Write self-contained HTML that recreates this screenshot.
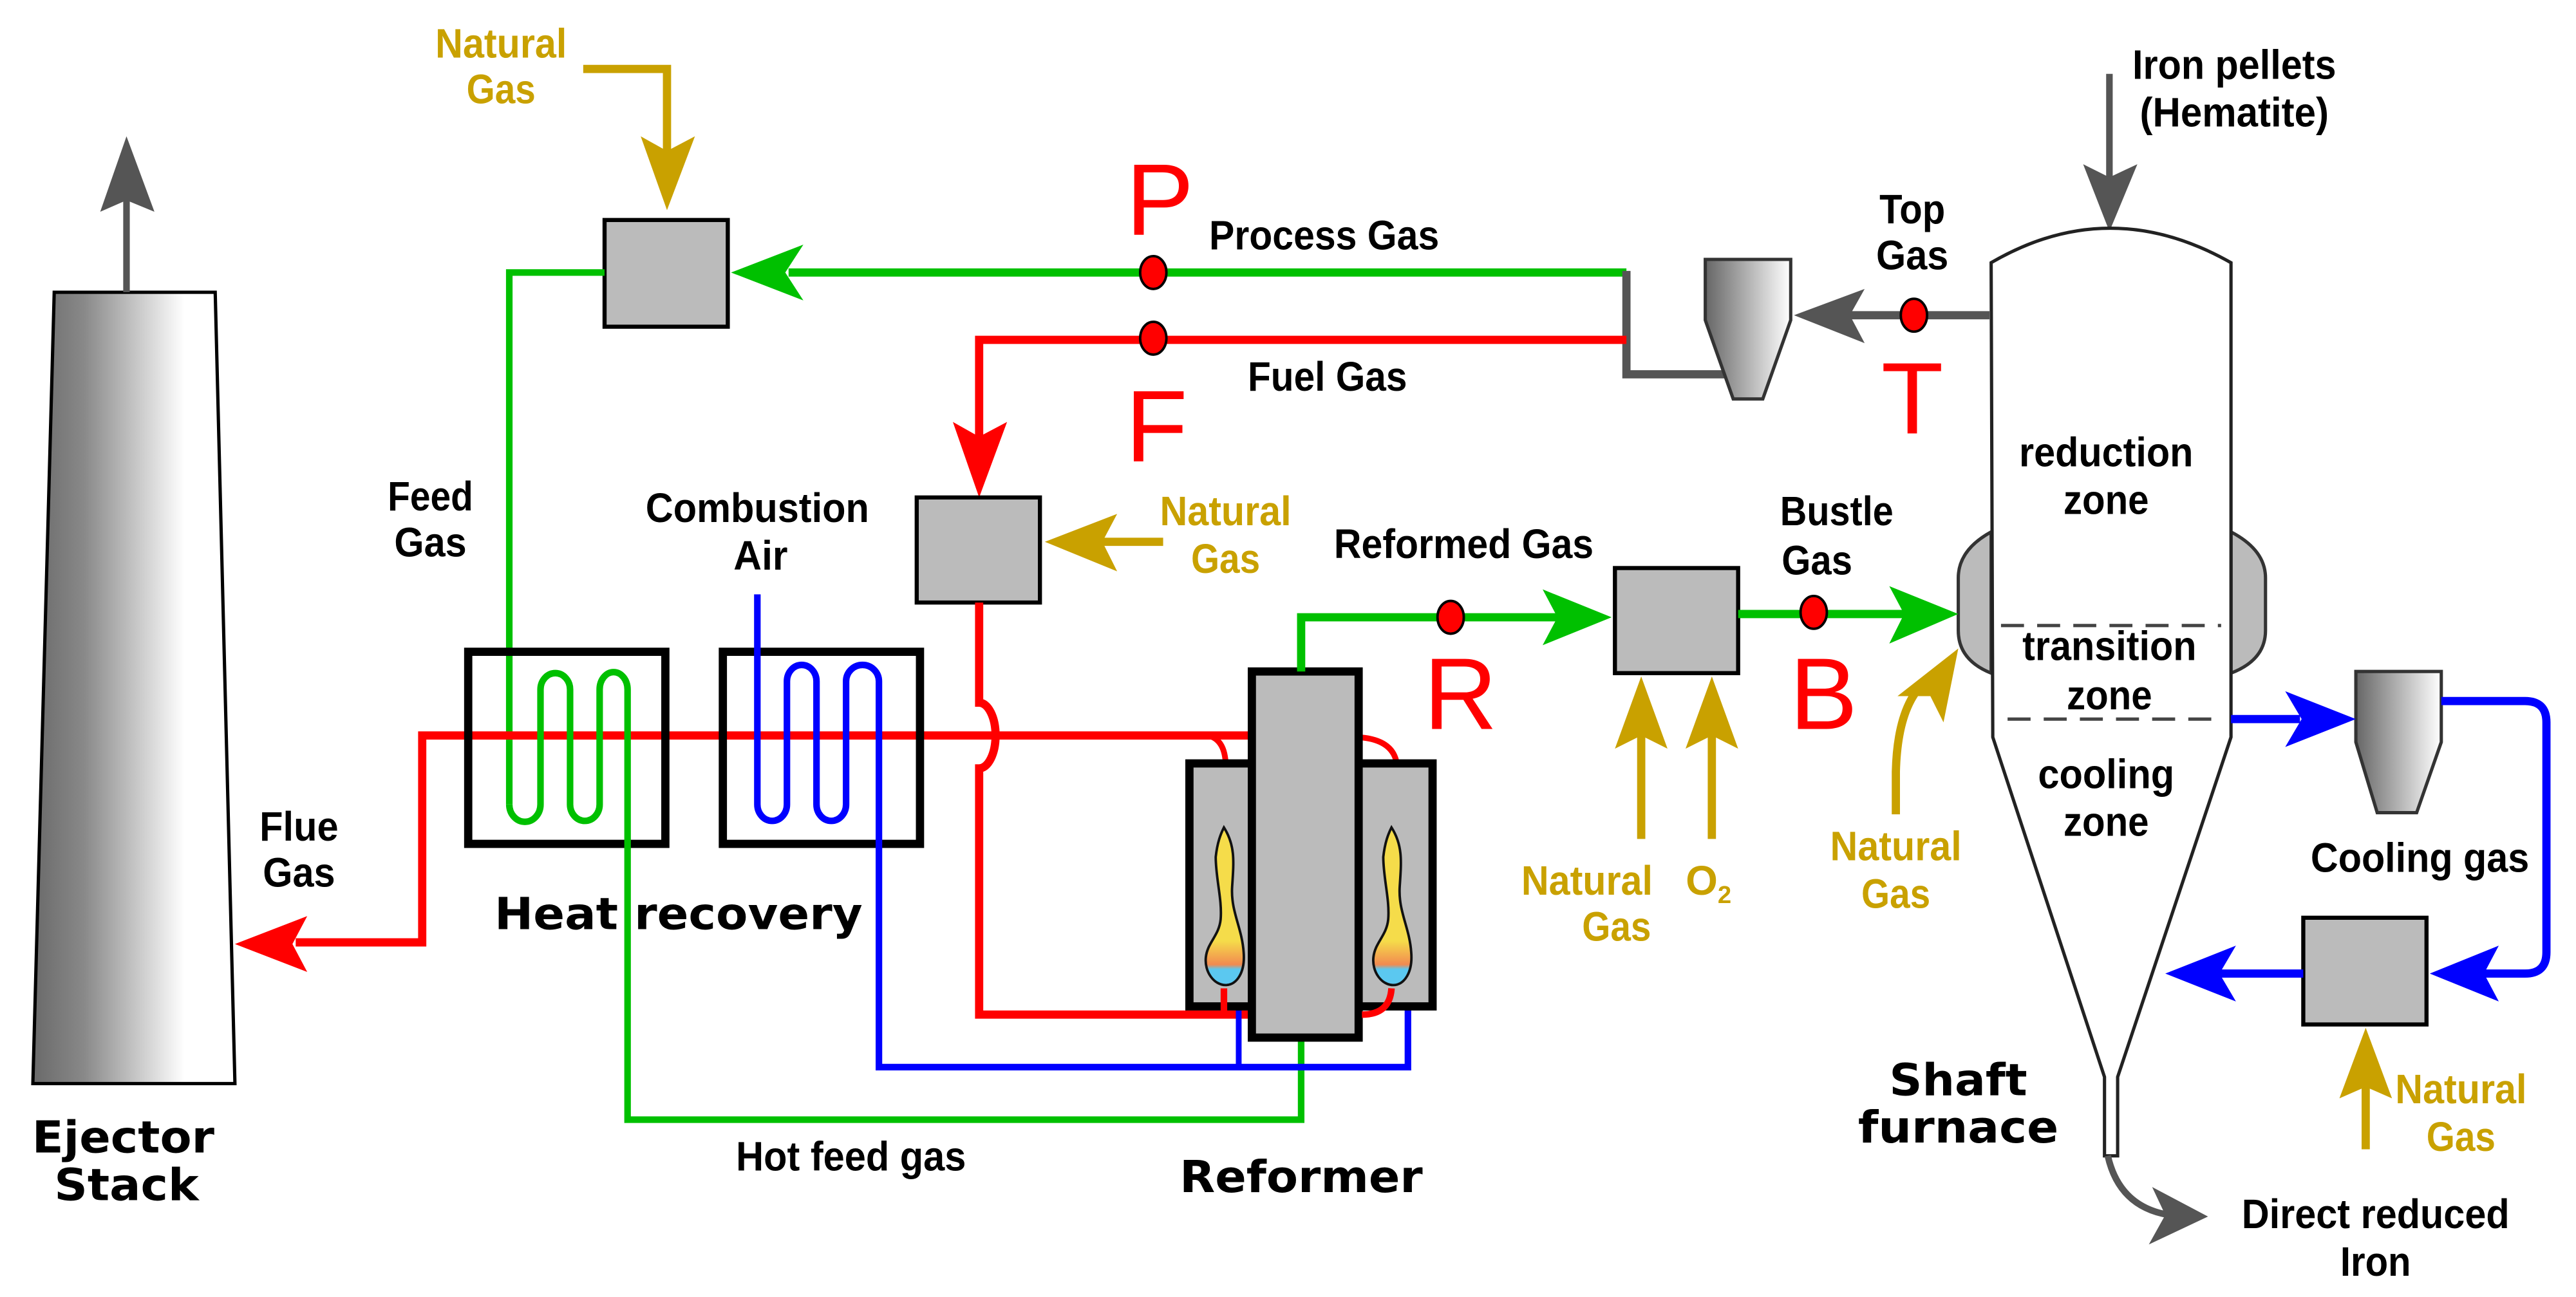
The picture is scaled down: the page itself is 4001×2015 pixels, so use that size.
<!DOCTYPE html>
<html><head><meta charset="utf-8"><style>
html,body{margin:0;padding:0;background:#fff;}
svg{display:block;}
text{font-family:"Liberation Sans",sans-serif;}
.l{font-size:25px;fill:#000;font-weight:bold;}
.g{font-size:25px;fill:#c9a100;font-weight:bold;}
.b{font-family:"DejaVu Sans","Liberation Sans",sans-serif;font-weight:bold;font-size:27px;fill:#000;}
.r{font-size:62px;fill:#f00;}
</style></head><body>
<svg width="4001" height="2015" viewBox="0 0 1568 790" preserveAspectRatio="none" xmlns="http://www.w3.org/2000/svg">
<defs>
<linearGradient id="st" x1="0" x2="1" y1="0" y2="0"><stop offset="0" stop-color="#6a6a6a"/><stop offset="0.25" stop-color="#888"/><stop offset="0.75" stop-color="#fff"/><stop offset="1" stop-color="#fff"/></linearGradient>
<linearGradient id="cy" x1="0" x2="1" y1="0" y2="0"><stop offset="0" stop-color="#666"/><stop offset="1" stop-color="#fff"/></linearGradient>
<linearGradient id="fl" x1="0" x2="0" y1="0" y2="1"><stop offset="0" stop-color="#f5dc4a"/><stop offset="0.72" stop-color="#f5dc4a"/><stop offset="0.87" stop-color="#f28a50"/><stop offset="0.9" stop-color="#5bc8f0"/><stop offset="1" stop-color="#5bc8f0"/></linearGradient>
</defs>

<polygon points="33,178 131,178 143,660 20,660" fill="url(#st)" stroke="#000" stroke-width="2"/>
<line x1="77" y1="178" x2="77" y2="120" stroke="#555" stroke-width="4"/>
<polygon points="77,83 94,129 77,122 61,129" fill="#555"/>
<text class="b" x="75" y="702" text-anchor="middle" textLength="111" lengthAdjust="spacingAndGlyphs">Ejector</text>
<text class="b" x="77" y="731" text-anchor="middle" textLength="88" lengthAdjust="spacingAndGlyphs">Stack</text>

<text class="g" x="305" y="35" text-anchor="middle" textLength="80" lengthAdjust="spacingAndGlyphs">Natural</text>
<text class="g" x="305" y="63" text-anchor="middle" textLength="42" lengthAdjust="spacingAndGlyphs">Gas</text>
<polyline points="355,42 406,42 406,100" fill="none" stroke="#c9a100" stroke-width="5"/>
<polygon points="406,128 423,83 406,92 390,83" fill="#c9a100"/>

<rect x="368" y="134" width="75" height="65" fill="#bbb" stroke="#000" stroke-width="2.5"/>
<polyline points="990,166 480,166" fill="none" stroke="#00c000" stroke-width="5"/>
<polygon points="445,166 489,149 478,166 489,183" fill="#00c000"/>
<polyline points="368,166 310,166 310,490" fill="none" stroke="#00c000" stroke-width="4"/>
<polyline points="990,165 990,228 1052,228" fill="none" stroke="#555" stroke-width="5"/>
<polyline points="990,207 596,207 596,270" fill="none" stroke="#f00" stroke-width="5"/>
<polygon points="596,303 613,257 596,266 580,257" fill="#f00"/>
<ellipse cx="702" cy="166" rx="8" ry="10" fill="#f00" stroke="#000" stroke-width="1.5"/>
<ellipse cx="702" cy="206" rx="8" ry="10" fill="#f00" stroke="#000" stroke-width="1.5"/>
<text class="r" x="706" y="143" text-anchor="middle">P</text>
<text class="r" x="704" y="281" text-anchor="middle">F</text>
<text class="l" x="806" y="152" text-anchor="middle" textLength="140" lengthAdjust="spacingAndGlyphs">Process Gas</text>
<text class="l" x="808" y="238" text-anchor="middle" textLength="97" lengthAdjust="spacingAndGlyphs">Fuel Gas</text>

<polygon points="1038,158 1090,158 1090,195 1073,243 1055,243 1038,195" fill="url(#cy)" stroke="#333" stroke-width="2"/>
<line x1="1211" y1="192" x2="1125" y2="192" stroke="#555" stroke-width="5"/>
<polygon points="1092,192 1135,176 1126,192 1135,209" fill="#555"/>
<ellipse cx="1165" cy="192" rx="8" ry="10" fill="#f00" stroke="#000" stroke-width="1.5"/>
<text class="r" x="1164" y="264" text-anchor="middle">T</text>
<text class="l" x="1164" y="136" text-anchor="middle" textLength="40" lengthAdjust="spacingAndGlyphs">Top</text>
<text class="l" x="1164" y="164" text-anchor="middle" textLength="44" lengthAdjust="spacingAndGlyphs">Gas</text>
<text class="l" x="1360" y="48" text-anchor="middle" textLength="124" lengthAdjust="spacingAndGlyphs">Iron pellets</text>
<text class="l" x="1360" y="77" text-anchor="middle" textLength="115" lengthAdjust="spacingAndGlyphs">(Hematite)</text>
<line x1="1284" y1="45" x2="1284" y2="110" stroke="#555" stroke-width="4"/>
<polygon points="1284,141 1301,100 1284,108 1268,100" fill="#555"/>

<path d="M1212,324 Q1192,335 1192,352 L1192,384 Q1192,402 1212,410 Z" fill="#bbb" stroke="#333" stroke-width="2"/>
<path d="M1358,324 Q1379,335 1379,352 L1379,384 Q1379,402 1358,410 Z" fill="#bbb" stroke="#333" stroke-width="2"/>
<path d="M1212,160 Q1284,118 1358,160 L1358,449 L1289,656 L1289,704 L1281,704 L1281,656 L1213,449 Z" fill="#fff" stroke="#222" stroke-width="2"/>
<line x1="1218" y1="381" x2="1352" y2="381" stroke="#444" stroke-width="2" stroke-dasharray="14,8"/>
<line x1="1222" y1="438" x2="1354" y2="438" stroke="#444" stroke-width="2" stroke-dasharray="14,8"/>
<text class="l" x="1282" y="284" text-anchor="middle" textLength="106" lengthAdjust="spacingAndGlyphs">reduction</text>
<text class="l" x="1282" y="313" text-anchor="middle" textLength="52" lengthAdjust="spacingAndGlyphs">zone</text>
<text class="l" x="1284" y="402" text-anchor="middle" textLength="106" lengthAdjust="spacingAndGlyphs">transition</text>
<text class="l" x="1284" y="432" text-anchor="middle" textLength="52" lengthAdjust="spacingAndGlyphs">zone</text>
<text class="l" x="1282" y="480" text-anchor="middle" textLength="83" lengthAdjust="spacingAndGlyphs">cooling</text>
<text class="l" x="1282" y="509" text-anchor="middle" textLength="52" lengthAdjust="spacingAndGlyphs">zone</text>
<text class="b" x="1192" y="667" text-anchor="middle" textLength="84" lengthAdjust="spacingAndGlyphs">Shaft</text>
<text class="b" x="1192" y="696" text-anchor="middle" textLength="122" lengthAdjust="spacingAndGlyphs">furnace</text>
<path d="M1283,704 Q1290,735 1320,740" fill="none" stroke="#555" stroke-width="4"/>
<polygon points="1344,741 1310,723 1318,740 1308,758" fill="#555"/>
<text class="l" x="1446" y="748" text-anchor="middle" textLength="163" lengthAdjust="spacingAndGlyphs">Direct reduced</text>
<text class="l" x="1446" y="777" text-anchor="middle" textLength="43" lengthAdjust="spacingAndGlyphs">Iron</text>

<polygon points="1434,409 1486,409 1486,452 1471,495 1447,495 1434,452" fill="url(#cy)" stroke="#333" stroke-width="2"/>
<line x1="1358" y1="438" x2="1400" y2="438" stroke="#00f" stroke-width="5"/>
<polygon points="1434,438 1391,421 1401,438 1391,455" fill="#00f"/>
<path d="M1486,427 L1537,427 Q1550,427 1550,440 L1550,580 Q1550,593 1537,593 L1510,593" fill="none" stroke="#00f" stroke-width="5"/>
<polygon points="1479,593 1521,576 1512,593 1521,610" fill="#00f"/>
<rect x="1402" y="559" width="75" height="65" fill="#bbb" stroke="#000" stroke-width="2.5"/>
<line x1="1402" y1="593" x2="1350" y2="593" stroke="#00f" stroke-width="5"/>
<polygon points="1318,593 1361,576 1351,593 1361,610" fill="#00f"/>
<text class="l" x="1473" y="531" text-anchor="middle" textLength="133" lengthAdjust="spacingAndGlyphs">Cooling gas</text>
<line x1="1440" y1="700" x2="1440" y2="660" stroke="#c9a100" stroke-width="5"/>
<polygon points="1440,626 1456,669 1440,662 1424,669" fill="#c9a100"/>
<text class="g" x="1498" y="672" text-anchor="middle" textLength="80" lengthAdjust="spacingAndGlyphs">Natural</text>
<text class="g" x="1498" y="701" text-anchor="middle" textLength="42" lengthAdjust="spacingAndGlyphs">Gas</text>

<rect x="558" y="303" width="75" height="64" fill="#bbb" stroke="#000" stroke-width="2.5"/>
<line x1="708" y1="330" x2="670" y2="330" stroke="#c9a100" stroke-width="5"/>
<polygon points="636,330 680,313 671,330 680,348" fill="#c9a100"/>
<text class="g" x="746" y="320" text-anchor="middle" textLength="80" lengthAdjust="spacingAndGlyphs">Natural</text>
<text class="g" x="746" y="349" text-anchor="middle" textLength="42" lengthAdjust="spacingAndGlyphs">Gas</text>

<path d="M596,367 L596,428 A10,20 0 0 1 596,468 L596,618 L762,618" fill="none" stroke="#f00" stroke-width="5"/>
<polyline points="762,448 257,448 257,574 180,574" fill="none" stroke="#f00" stroke-width="5"/>
<polygon points="143,575 187,558 178,575 187,592" fill="#f00"/>
<text class="l" x="182" y="512" text-anchor="middle" textLength="48" lengthAdjust="spacingAndGlyphs">Flue</text>
<text class="l" x="182" y="540" text-anchor="middle" textLength="44" lengthAdjust="spacingAndGlyphs">Gas</text>
<path d="M735,448 Q745,450 746,464" fill="none" stroke="#f00" stroke-width="3.5"/>
<path d="M826,449 Q847,450 850,464" fill="none" stroke="#f00" stroke-width="3.5"/>

<rect x="285" y="397" width="120" height="117" fill="none" stroke="#000" stroke-width="5"/>
<rect x="440" y="397" width="120" height="117" fill="none" stroke="#000" stroke-width="5"/>
<path d="M310,490 A9,10 0 0 0 329,490 L329,420 A9,10 0 0 1 347,420 L347,490 A9,10 0 0 0 365,490 L365,420 A8,10 0 0 1 382,420 L382,682 L792,682 L792,633" fill="none" stroke="#00c000" stroke-width="4"/>
<path d="M461,362 L461,490 A9,10 0 0 0 479,490 L479,415 A9,10 0 0 1 497,415 L497,490 A9,10 0 0 0 515,490 L515,415 A10,10 0 0 1 535,415 L535,650 L857,650 L857,603" fill="none" stroke="#00f" stroke-width="4"/>
<line x1="754" y1="650" x2="754" y2="603" stroke="#00f" stroke-width="3.5"/>
<text class="b" x="413" y="566" text-anchor="middle" textLength="224" lengthAdjust="spacingAndGlyphs">Heat recovery</text>
<text class="l" x="262" y="311" text-anchor="middle" textLength="52" lengthAdjust="spacingAndGlyphs">Feed</text>
<text class="l" x="262" y="339" text-anchor="middle" textLength="44" lengthAdjust="spacingAndGlyphs">Gas</text>
<text class="l" x="461" y="318" text-anchor="middle" textLength="136" lengthAdjust="spacingAndGlyphs">Combustion</text>
<text class="l" x="463" y="347" text-anchor="middle" textLength="33" lengthAdjust="spacingAndGlyphs">Air</text>
<text class="l" x="518" y="713" text-anchor="middle" textLength="140" lengthAdjust="spacingAndGlyphs">Hot feed gas</text>

<rect x="724" y="465" width="148" height="148" fill="#bbb" stroke="#000" stroke-width="5"/>
<rect x="762" y="409" width="65" height="223" fill="#bbb" stroke="#000" stroke-width="5"/>
<path d="M745,504 C752,515 751,525 750,540 C749,555 756,565 757,580 C758,592 753,600 746,600 C739,600 733,592 734,583 C735,574 742,570 743,560 C744,548 740,535 740,522 C741,513 743,508 745,504 Z" fill="url(#fl)" stroke="#111" stroke-width="1.5"/>
<path d="M847,504 C854,515 853,525 852,540 C851,555 858,565 859,580 C860,592 855,600 848,600 C841,600 835,592 836,583 C837,574 844,570 845,560 C846,548 842,535 842,522 C843,513 845,508 847,504 Z" fill="url(#fl)" stroke="#111" stroke-width="1.5"/>
<line x1="745" y1="602" x2="745" y2="618" stroke="#f00" stroke-width="4"/>
<path d="M847,602 Q846,618 829,618" fill="none" stroke="#f00" stroke-width="4"/>
<text class="b" x="792" y="726" text-anchor="middle" textLength="148" lengthAdjust="spacingAndGlyphs">Reformer</text>

<polyline points="792,409 792,376 950,376" fill="none" stroke="#00c000" stroke-width="5"/>
<polygon points="981,376 939,359 948,376 939,393" fill="#00c000"/>
<ellipse cx="883" cy="376" rx="8" ry="10" fill="#f00" stroke="#000" stroke-width="1.5"/>
<text class="r" x="889" y="444" text-anchor="middle">R</text>
<text class="l" x="891" y="340" text-anchor="middle" textLength="158" lengthAdjust="spacingAndGlyphs">Reformed Gas</text>
<rect x="983" y="346" width="75" height="64" fill="#bbb" stroke="#000" stroke-width="2.5"/>
<line x1="1058" y1="374" x2="1160" y2="374" stroke="#00c000" stroke-width="5"/>
<polygon points="1192,374 1150,357 1159,374 1150,392" fill="#00c000"/>
<ellipse cx="1104" cy="373" rx="8" ry="10" fill="#f00" stroke="#000" stroke-width="1.5"/>
<text class="r" x="1110" y="444" text-anchor="middle">B</text>
<text class="l" x="1118" y="320" text-anchor="middle" textLength="69" lengthAdjust="spacingAndGlyphs">Bustle</text>
<text class="l" x="1106" y="350" text-anchor="middle" textLength="43" lengthAdjust="spacingAndGlyphs">Gas</text>
<line x1="999" y1="511" x2="999" y2="445" stroke="#c9a100" stroke-width="5"/>
<polygon points="999,412 1015,456 999,448 983,456" fill="#c9a100"/>
<line x1="1042" y1="511" x2="1042" y2="445" stroke="#c9a100" stroke-width="5"/>
<polygon points="1042,412 1058,456 1042,448 1026,456" fill="#c9a100"/>
<text class="g" x="966" y="545" text-anchor="middle" textLength="80" lengthAdjust="spacingAndGlyphs">Natural</text>
<text class="g" x="984" y="573" text-anchor="middle" textLength="42" lengthAdjust="spacingAndGlyphs">Gas</text>
<text class="g" x="1040" y="545" text-anchor="middle">O<tspan font-size="15" dy="5">2</tspan></text>
<path d="M1154,496 L1154,470 Q1155,430 1172,415" fill="none" stroke="#c9a100" stroke-width="5"/>
<polygon points="1192,395 1183,440 1175,424 1155,424" fill="#c9a100"/>
<text class="g" x="1154" y="524" text-anchor="middle" textLength="80" lengthAdjust="spacingAndGlyphs">Natural</text>
<text class="g" x="1154" y="553" text-anchor="middle" textLength="42" lengthAdjust="spacingAndGlyphs">Gas</text>
</svg>
</body></html>
